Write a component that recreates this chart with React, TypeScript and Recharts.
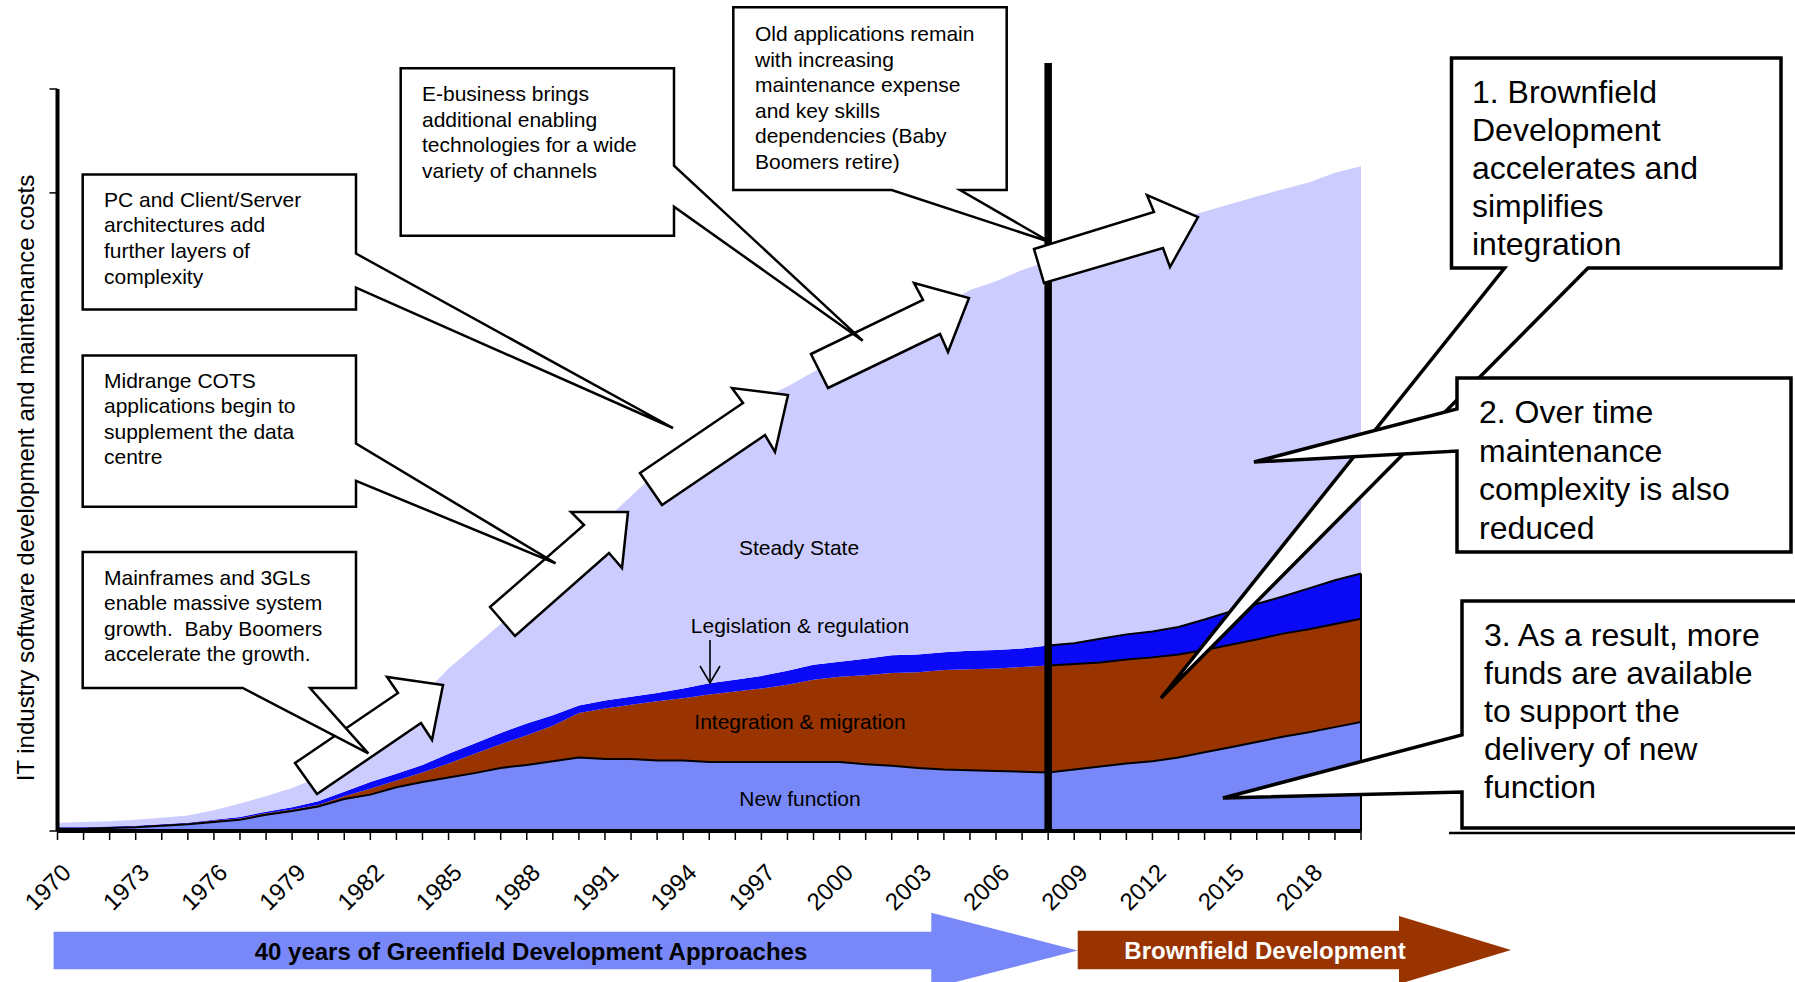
import React from "react";
import { ComposedChart, Area, Line, XAxis, YAxis, ReferenceLine } from "recharts";

// one point per year, 1970..2020
const years = [
  1970, 1971, 1972, 1973, 1974, 1975, 1976, 1977, 1978, 1979,
  1980, 1981, 1982, 1983, 1984, 1985, 1986, 1987, 1988, 1989,
  1990, 1991, 1992, 1993, 1994, 1995, 1996, 1997, 1998, 1999,
  2000, 2001, 2002, 2003, 2004, 2005, 2006, 2007, 2008, 2009,
  2010, 2011, 2012, 2013, 2014, 2015, 2016, 2017, 2018, 2019,
  2020,
];
const yearLabels = [1970, 1973, 1976, 1979, 1982, 1985, 1988, 1991, 1994, 1997, 2000, 2003, 2006, 2009, 2012, 2015, 2018];

const newFunction = [
  0.3, 0.3, 0.4, 0.5, 0.7, 0.9, 1.2, 1.5, 2.2, 2.7,
  3.3, 4.3, 4.9, 5.9, 6.6, 7.2, 7.8, 8.5, 8.9, 9.4,
  9.9, 9.7, 9.7, 9.5, 9.5, 9.3, 9.3, 9.3, 9.3, 9.3,
  9.3, 9.0, 8.8, 8.5, 8.3, 8.2, 8.1, 8.0, 7.9, 8.3,
  8.7, 9.1, 9.4, 9.9, 10.6, 11.3, 12.0, 12.7, 13.3, 14.0,
  14.7,
];
const integration = [
  0.1, 0.1, 0.1, 0.1, 0.1, 0.1, 0.2, 0.2, 0.2, 0.2,
  0.2, 0.4, 0.8, 0.9, 1.3, 1.9, 2.6, 3.2, 4.0, 4.8,
  6.0, 6.8, 7.3, 8.0, 8.4, 9.1, 9.5, 9.9, 10.4, 11.1,
  11.5, 12.0, 12.5, 12.9, 13.4, 13.6, 13.8, 14.1, 14.4, 14.2,
  14.0, 14.0, 14.0, 13.9, 13.8, 13.8, 13.8, 13.9, 13.9, 13.9,
  13.9,
];
const legislation = [
  0.1, 0.1, 0.1, 0.1, 0.1, 0.1, 0.1, 0.2, 0.2, 0.3,
  0.5, 0.6, 0.9, 0.9, 1.0, 1.3, 1.4, 1.5, 1.6, 1.4,
  1.0, 1.1, 1.1, 1.1, 1.3, 1.5, 1.6, 1.7, 1.9, 2.0,
  2.0, 2.2, 2.4, 2.4, 2.4, 2.5, 2.5, 2.5, 2.7, 2.8,
  3.2, 3.4, 3.5, 3.7, 4.1, 4.5, 4.8, 5.0, 5.5, 5.9,
  6.1,
];
const steadyState = [
  0.6, 0.7, 0.7, 0.8, 0.9, 1.0, 1.3, 1.8, 2.1, 2.6,
  3.2, 3.8, 4.9, 7.0, 9.4, 11.5, 13.1, 14.7, 16.9, 19.1,
  21.4, 24.3, 27.0, 29.8, 32.1, 34.1, 35.8, 37.3, 38.3, 39.5,
  41.0, 42.5, 43.8, 45.3, 46.8, 48.6, 49.7, 51.0, 51.8, 52.6,
  53.0, 53.6, 54.3, 54.9, 55.0, 54.9, 54.9, 54.9, 54.7, 54.9,
  54.9,
];

const yTicks = [0, 86, 100];
const brownfieldStart = 2008;
const dividerTop = 103.5;

const FONT = '"Liberation Sans", Arial, sans-serif';

// the boundary lines after 2008 get a black outline, as in the original
const data = years.map((year, i) => {
  const nf = newFunction[i];
  const im = nf + integration[i];
  const lr = im + legislation[i];
  return {
    year,
    newFunction: nf,
    integration: integration[i],
    legislation: legislation[i],
    steadyState: steadyState[i],
    newTop: nf,
    integTop: year >= brownfieldStart ? im : null,
    legisTop: year >= brownfieldStart ? lr : null,
  };
});
const lastTop = newFunction[years.length - 1] + integration[years.length - 1] + legislation[years.length - 1];

const YearTick = (props: any) => {
  const { x, y, payload } = props;
  if (!yearLabels.includes(payload.value)) return <g />;
  const ax = x + 15;
  const ay = y + 32;
  return (
    <text x={ax} y={ay} transform={`rotate(-45 ${ax} ${ay})`} textAnchor="end" fontSize={24} fill="#000" fontFamily={FONT}>
      {payload.value}
    </text>
  );
};

// y axis keeps its tick marks but has no numbers
const NoLabel = () => <g />;

const Callout = ({ points, lines, x, y0, step, size, sw }: any) => (
  <g>
    <polygon points={points} fill="#fff" stroke="#000" strokeWidth={sw} strokeLinejoin="miter" />
    {lines.map((t: string, i: number) => (
      <text key={i} x={x} y={y0 + i * step} fontSize={size} dominantBaseline="central" fill="#000" xmlSpace="preserve">
        {t}
      </text>
    ))}
  </g>
);

const blockArrows = [
  "295,763 398,693 387,677 443,685 432,740 421,723 317,794",
  "490,607 584,525 571,512 628,512 622,568 609,553 515,636",
  "640,473 743,403 732,388 788,395 775,452 765,435 662,505",
  "811,354 923,300 914,283 969,298 948,352 940,334 828,388",
  "1034,249 1154,212 1147,195 1198,217 1170,267 1163,248 1044,283",
];

export default function App() {
  return (
    <div style={{ position: "absolute", left: 0, top: 0, width: 1795, height: 982, background: "#fff", fontFamily: FONT }}>
      <ComposedChart
        width={1795}
        height={982}
        data={data}
        margin={{ top: 89, right: 434, bottom: 121, left: 47.5 }}
      >
        <XAxis
          dataKey="year"
          type="number"
          domain={[1970, 2020]}
          ticks={years}
          interval={0}
          height={30}
          tickSize={9}
          axisLine={{ stroke: "#000", strokeWidth: 4 }}
          tickLine={{ stroke: "#000", strokeWidth: 1.5 }}
          tick={<YearTick />}
        />
        <YAxis
          domain={[0, 100]}
          ticks={yTicks}
          interval={0}
          width={10}
          tickSize={8}
          tick={<NoLabel />}
          axisLine={{ stroke: "#000", strokeWidth: 4 }}
          tickLine={{ stroke: "#000", strokeWidth: 1.5 }}
        />
        <Area type="linear" dataKey="newFunction" stackId="1" fill="#7888F8" fillOpacity={1} stroke="none" isAnimationActive={false} />
        <Area type="linear" dataKey="integration" stackId="1" fill="#993300" fillOpacity={1} stroke="none" isAnimationActive={false} />
        <Area type="linear" dataKey="legislation" stackId="1" fill="#0A0AF7" fillOpacity={1} stroke="none" isAnimationActive={false} />
        <Area type="linear" dataKey="steadyState" stackId="1" fill="#CCCCFF" fillOpacity={1} stroke="none" isAnimationActive={false} />
        <Line type="linear" dataKey="newTop" stroke="#000" strokeWidth={2} dot={false} activeDot={false} isAnimationActive={false} />
        <Line type="linear" dataKey="integTop" stroke="#000" strokeWidth={2} dot={false} activeDot={false} isAnimationActive={false} />
        <Line type="linear" dataKey="legisTop" stroke="#000" strokeWidth={2} dot={false} activeDot={false} isAnimationActive={false} />
        <ReferenceLine segment={[{ x: 2020, y: 0 }, { x: 2020, y: lastTop }]} stroke="#000" strokeWidth={2} ifOverflow="visible" />
        <ReferenceLine segment={[{ x: brownfieldStart, y: 0 }, { x: brownfieldStart, y: dividerTop }]} stroke="#000" strokeWidth={7.5} ifOverflow="visible" />
      </ComposedChart>

      <svg width={1795} height={982} style={{ position: "absolute", left: 0, top: 0, pointerEvents: "none" }} fontFamily={FONT}>
        {/* y axis title */}
        <text x={25} y={478} transform="rotate(-90 25 478)" textAnchor="middle" dominantBaseline="central" fontSize={24} fill="#000">
          IT industry software development and maintenance costs
        </text>

        {/* area labels */}
        <g fontSize={21} fill="#000" textAnchor="middle">
          <text x={799} y={547} dominantBaseline="central">Steady State</text>
          <text x={800} y={625} dominantBaseline="central">Legislation &amp; regulation</text>
          <text x={800} y={721} dominantBaseline="central">Integration &amp; migration</text>
          <text x={800} y={798} dominantBaseline="central">New function</text>
        </g>
        <g stroke="#000" strokeWidth={1.6} fill="none">
          <line x1={710} y1={640} x2={710} y2={683} />
          <polyline points="700,666 710,683 720,666" />
        </g>

        {/* block arrows */}
        {blockArrows.map((p, i) => (
          <polygon key={i} points={p} fill="#fff" stroke="#000" strokeWidth={2.5} strokeLinejoin="miter" />
        ))}

        {/* left callouts */}
        <Callout
          points="82.7,174.6 356,174.6 356,253.6 673,428 356,287.7 356,309.6 82.7,309.6"
          lines={["PC and Client/Server", "architectures add", "further layers of", "complexity"]}
          x={104} y0={199} step={25.9} size={21} sw={2.5}
        />
        <Callout
          points="82.7,355.5 356,355.5 356,443.6 555.6,563.3 356,480.8 356,506.8 82.7,506.8"
          lines={["Midrange COTS", "applications begin to", "supplement the data", "centre"]}
          x={104} y0={380} step={25.5} size={21} sw={2.5}
        />
        <Callout
          points="82.7,552 356,552 356,688 310,688 368.3,753.3 242.7,688 82.7,688"
          lines={["Mainframes and 3GLs", "enable massive system", "growth.  Baby Boomers", "accelerate the growth."]}
          x={104} y0={577} step={25.5} size={21} sw={2.5}
        />
        <Callout
          points="400.7,68.3 674,68.3 674,165.7 862.7,340.7 674,206.7 674,235.7 400.7,235.7"
          lines={["E-business brings", "additional enabling", "technologies for a wide", "variety of channels"]}
          x={422} y0={93.5} step={25.6} size={21} sw={2.5}
        />
        <Callout
          points="733.3,7.3 1006.7,7.3 1006.7,190 960,190 1050,242 891.7,190 733.3,190"
          lines={["Old applications remain", "with increasing", "maintenance expense", "and key skills", "dependencies (Baby", "Boomers retire)"]}
          x={755} y0={33.5} step={25.6} size={21} sw={2.5}
        />

        {/* right callouts */}
        <Callout
          points="1451.5,58 1781,58 1781,268 1588,268 1161,698 1504.6,268 1451.5,268"
          lines={["1. Brownfield", "Development", "accelerates and", "simplifies", "integration"]}
          x={1472} y0={92} step={38} size={32} sw={3.5}
        />
        <Callout
          points="1457,378 1791,378 1791,552 1457,552 1457,451 1254,462 1457,409"
          lines={["2. Over time", "maintenance", "complexity is also", "reduced"]}
          x={1479} y0={412} step={38.5} size={32} sw={3.5}
        />
        <Callout
          points="1462,601 1805,601 1805,828 1462,828 1462,792 1223,798 1462,735"
          lines={["3. As a result, more", "funds are available", "to support the", "delivery of new", "function"]}
          x={1484} y0={635} step={38} size={32} sw={3.5}
        />
        <line x1={1449} y1={833} x2={1795} y2={833} stroke="#000" strokeWidth={2.5} />

        {/* bottom banners */}
        <polygon points="53.6,931.7 931.3,931.7 931.3,912.7 1077.7,950.5 931.3,988.3 931.3,969.3 53.6,969.3" fill="#7888F8" />
        <text x={531} y={951} textAnchor="middle" dominantBaseline="central" fontSize={24} fontWeight="bold" fill="#000">
          40 years of Greenfield Development Approaches
        </text>
        <polygon points="1077.7,930.7 1399,930.7 1399,916 1511,950 1399,984 1399,969.3 1077.7,969.3" fill="#993300" />
        <text x={1265} y={950} textAnchor="middle" dominantBaseline="central" fontSize={24} fontWeight="bold" fill="#fff">
          Brownfield Development
        </text>
      </svg>
    </div>
  );
}
